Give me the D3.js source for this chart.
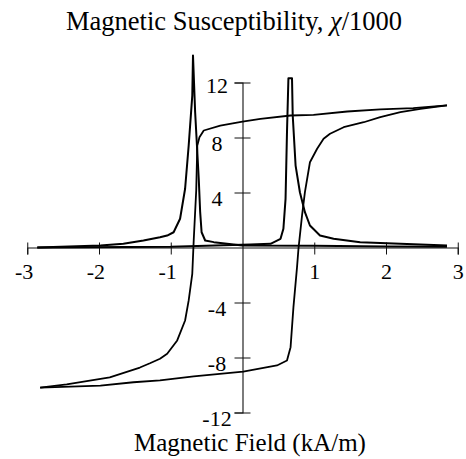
<!DOCTYPE html>
<html>
<head>
<meta charset="utf-8">
<script src="https://cdn.jsdelivr.net/npm/d3@7"></script>
<style>
  html, body { margin: 0; padding: 0; background: #fff; }
  svg { display: block; }
  text { font-family: "Liberation Serif", "Times New Roman", serif; fill: #000; }
</style>
</head>
<body>
<svg id="chart" width="466" height="459"></svg>
<script>
// ---- Data ----
const title = "Magnetic Susceptibility, ";
const xTitle = "Magnetic Field (kA/m)";
const xTicks = [-3, -2, -1, 1, 2, 3];
const yTicks = [-12, -8, -4, 4, 8, 12];

// Hysteresis loop, descending-field branch [H, value]
const loopDown = [
  [2.85, 10.33], [2.38, 10.13], [1.92, 10.04], [1.46, 9.89], [0.99, 9.65],
  [0.67, 9.60], [0.25, 9.36], [0.00, 9.16], [-0.31, 8.87], [-0.54, 8.51],
  [-0.60, 8.02], [-0.63, 7.42], [-0.645, 4.15], [-0.68, 0.51], [-0.70, -1.91],
  [-0.75, -3.85], [-0.80, -5.31], [-0.91, -6.76], [-1.05, -7.73], [-1.15, -8.09],
  [-1.29, -8.42], [-1.43, -8.73], [-1.85, -9.45], [-2.45, -9.96], [-2.82, -10.19]
];
// Hysteresis loop, ascending-field branch
const loopUp = [
  [-2.82, -10.19], [-1.98, -10.04], [-1.52, -9.80], [-1.15, -9.67], [-0.68, -9.38],
  [0.01, -9.02], [0.48, -8.58], [0.62, -8.22], [0.67, -7.25], [0.71, -4.34],
  [0.76, -1.43], [0.78, -0.09], [0.83, 2.33], [0.87, 4.02], [0.94, 6.20],
  [1.04, 7.18], [1.13, 7.91], [1.22, 8.27], [1.41, 8.75], [1.69, 9.11],
  [1.92, 9.48], [2.20, 9.84], [2.48, 10.09], [2.85, 10.33]
];
// Susceptibility, descending field (peak near -0.69)
const chiDown = [
  [2.85, 0.05], [2.0, 0.08], [1.0, 0.12], [0.0, 0.15], [-0.40, 0.39],
  [-0.52, 0.51], [-0.57, 1.11], [-0.59, 2.57], [-0.61, 5.02], [-0.66, 9.84],
  [-0.69, 13.96], [-0.70, 11.05], [-0.75, 7.42], [-0.80, 4.27], [-0.87, 2.09],
  [-0.96, 1.11], [-1.05, 0.87], [-1.15, 0.75], [-1.38, 0.51], [-1.66, 0.27],
  [-1.98, 0.15], [-2.86, 0.0]
];
// Susceptibility, ascending field (peak near +0.66)
const chiUp = [
  [-2.86, 0.0], [-1.0, 0.05], [0.11, 0.22], [0.39, 0.27], [0.53, 0.63],
  [0.57, 1.36], [0.60, 3.54], [0.62, 8.39], [0.64, 12.31], [0.69, 12.31],
  [0.70, 9.60], [0.74, 5.96], [0.80, 4.02], [0.87, 2.57], [0.94, 1.60],
  [1.08, 0.87], [1.27, 0.63], [1.64, 0.39], [2.20, 0.27], [2.85, 0.15]
];

// ---- Chart ----
const svg = d3.select("#chart");
const x = d3.scaleLinear().domain([-3, 3]).range([27.25, 457.75]);
const y = d3.scaleLinear().domain([-12, 12]).range([412.5, 82.5]);
const fsTick = 22;

// x axis
const gx = svg.append("g")
  .attr("transform", `translate(0,${y(0)})`)
  .call(d3.axisBottom(x).tickValues(xTicks).tickSizeOuter(0).tickSize(7).tickFormat(d3.format("d")));
gx.select(".domain").attr("stroke", "#111").attr("stroke-width", 1.1);
gx.selectAll(".tick line").attr("y1", -5).attr("stroke", "#111");
gx.selectAll(".tick text")
  .attr("y", 0).attr("dy", 0)
  .attr("transform", "translate(0,31)")
  .attr("x", fsTick * 0.25)
  .attr("text-anchor", "end")
  .style("font-family", '"Liberation Serif", "Times New Roman", serif')
  .style("font-size", fsTick + "px")
  .text(d => d < 0 ? "-" + Math.abs(d) : d);

// y axis
const gy = svg.append("g")
  .attr("transform", `translate(${x(0)},0)`)
  .call(d3.axisLeft(y).tickValues(yTicks).tickSizeOuter(0).tickSize(8).tickFormat(d3.format("d")));
gy.select(".domain").attr("stroke", "#111").attr("stroke-width", 1.1);
gy.selectAll(".tick line").attr("x1", 8).attr("stroke", "#111");
gy.selectAll(".tick text")
  .attr("x", -25.5).attr("dy", 0)
  .attr("transform", d => `translate(0,${d === 12 ? 10 : 13})`)
  .attr("text-anchor", "middle")
  .style("font-family", '"Liberation Serif", "Times New Roman", serif')
  .style("font-size", fsTick + "px")
  .text(d => d < 0 ? "-" + Math.abs(d) : d);

// curves
const line = d3.line().x(d => x(d[0])).y(d => y(d[1]));
[chiDown, chiUp].forEach(s => {
  svg.append("path").datum(s).attr("d", line)
    .attr("fill", "none").attr("stroke", "#000").attr("stroke-width", 2)
    .attr("stroke-linejoin", "round");
});
[loopDown, loopUp].forEach(s => {
  svg.append("path").datum(s).attr("d", line)
    .attr("fill", "none").attr("stroke", "#000").attr("stroke-width", 1.8)
    .attr("stroke-linejoin", "round");
});

// titles
const t = svg.append("text").attr("x", 234).attr("y", 30)
  .attr("text-anchor", "middle").style("font-size", "26.5px");
t.append("tspan").text(title);
t.append("tspan").style("font-style", "italic").text("χ");
t.append("tspan").text("/1000");

svg.append("text").attr("x", 250).attr("y", 451)
  .attr("text-anchor", "middle").style("font-size", "25px").text(xTitle);
</script>
</body>
</html>
